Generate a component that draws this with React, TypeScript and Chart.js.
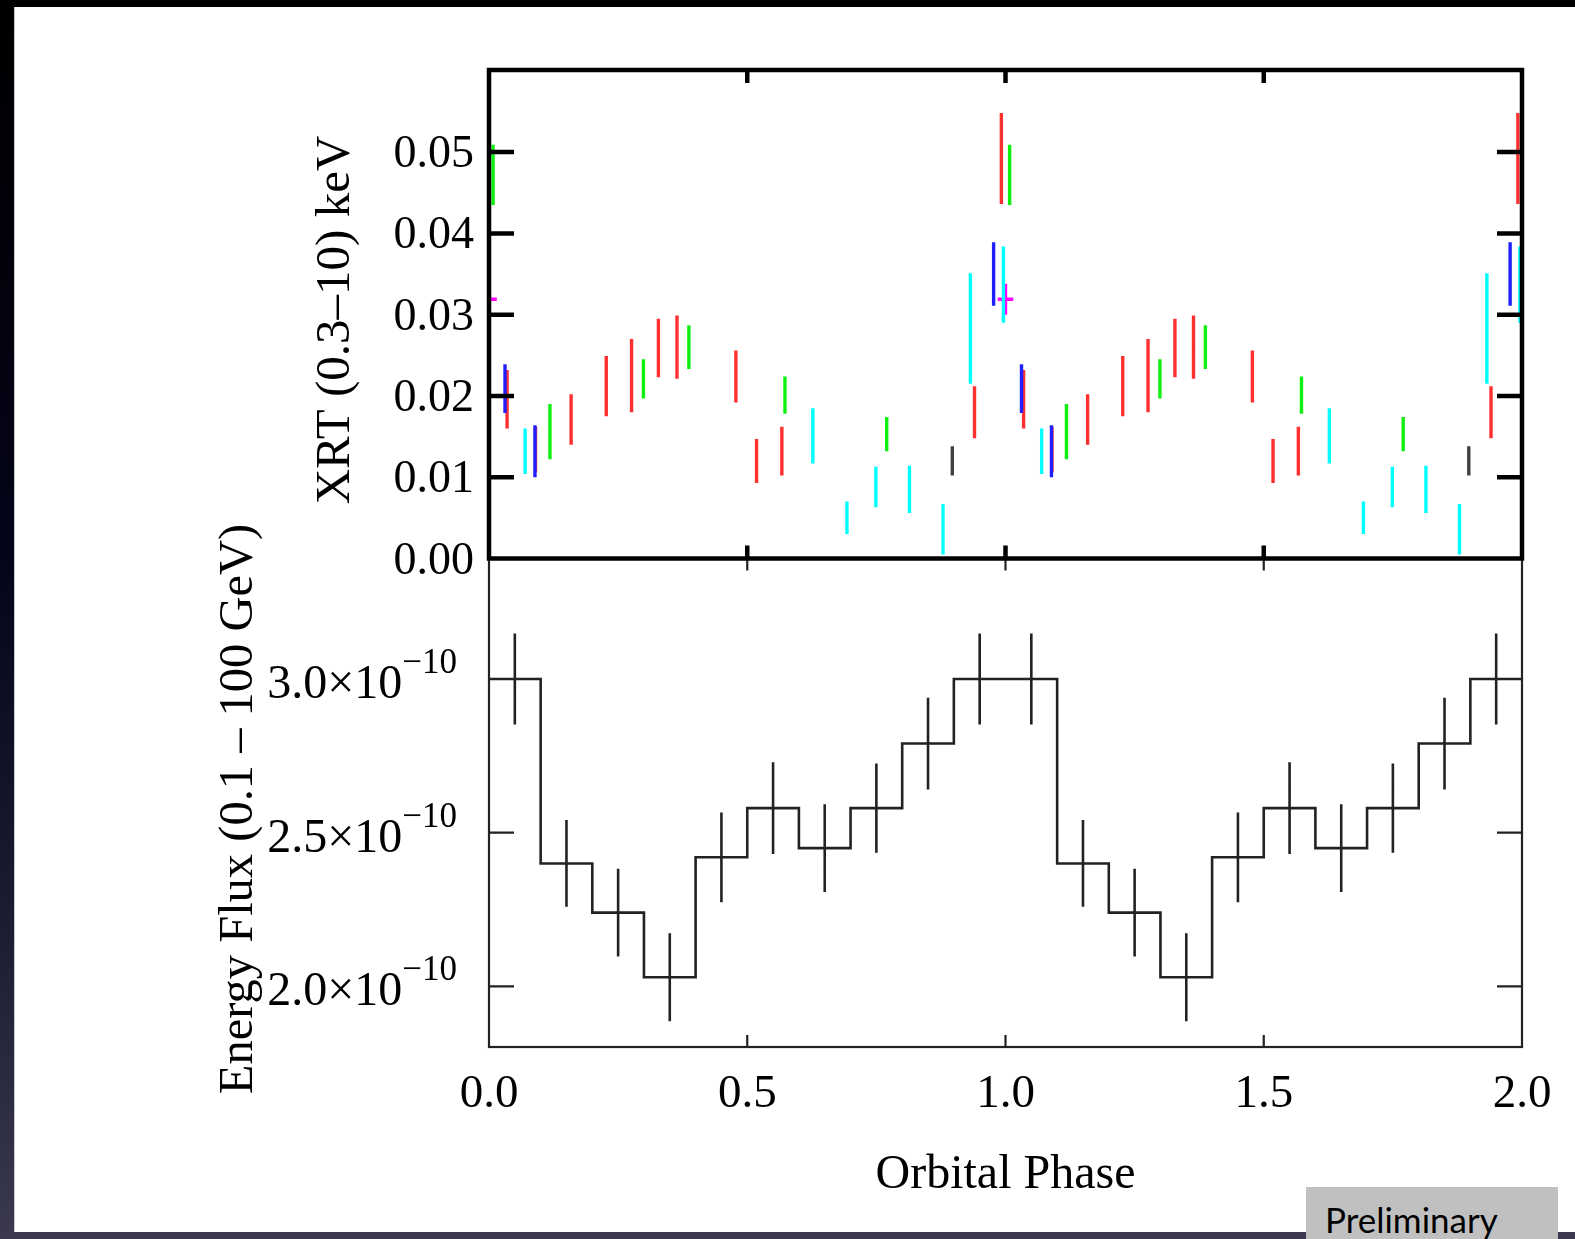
import React, { useEffect, useRef } from "react";
import { Chart, registerables } from "chart.js";

Chart.register(...registerables);

// ---------- axis ticks ----------
const phaseTicks = [0.5, 1.0, 1.5];
const phaseLabelValues = [0.0, 0.5, 1.0, 1.5, 2.0];
const phaseLabels = ["0.0", "0.5", "1.0", "1.5", "2.0"];
const xrtTicks = [0.01, 0.02, 0.03, 0.04, 0.05];
const xrtLabelValues = [0.0, 0.01, 0.02, 0.03, 0.04, 0.05];
const xrtLabels = ["0.00", "0.01", "0.02", "0.03", "0.04", "0.05"];
const fluxTicks = [2.0e-10, 2.5e-10, 3.0e-10];
const fluxMantissas = ["2.0×10", "2.5×10", "3.0×10"];
const fluxExponent = "−10";

// ---------- XRT (top panel), folded phase 0-1, plotted twice ----------
const redPhase = [0.035, 0.090, 0.159, 0.227, 0.276, 0.328, 0.364, 0.478, 0.518, 0.567, 0.940, 0.992];
const redValue = [0.0196, 0.0134, 0.0171, 0.0212, 0.0225, 0.0259, 0.0260, 0.0224, 0.0120, 0.0132, 0.0180, 0.0492];
const redError = [0.0036, 0.0028, 0.0031, 0.0037, 0.0045, 0.0036, 0.0039, 0.0032, 0.0027, 0.0030, 0.0032, 0.0056];

const greenPhase = [0.008, 0.118, 0.299, 0.387, 0.573, 0.770];
const greenValue = [0.0472, 0.0156, 0.0221, 0.0260, 0.0201, 0.0153];
const greenError = [0.0037, 0.0034, 0.0024, 0.0027, 0.0023, 0.0021];

const bluePhase = [0.031, 0.089, 0.977];
const blueValue = [0.0209, 0.0132, 0.0350];
const blueError = [0.0030, 0.0032, 0.0039];

const cyanPhase = [0.070, 0.627, 0.693, 0.749, 0.814, 0.879, 0.932, 0.996];
const cyanValue = [0.0132, 0.0151, 0.0050, 0.0088, 0.0085, 0.0036, 0.0283, 0.0337];
const cyanError = [0.0028, 0.0034, 0.0020, 0.0025, 0.0029, 0.0031, 0.0068, 0.0047];

const blackPhase = [0.897];
const blackValue = [0.0120];
const blackError = [0.0018];

const magentaPhase = [0.0];
const magentaValue = [0.0319];
const magentaError = [0.0019];
const magentaPhaseError = [0.015];

// ---------- Energy flux (bottom panel), 10 bins, plotted twice ----------
const binStart = [0.0, 0.1, 0.2, 0.3, 0.4, 0.5, 0.6, 0.7, 0.8, 0.9];
const binWidth = 0.1;
const fluxValue = [3.00e-10, 2.40e-10, 2.24e-10, 2.03e-10, 2.42e-10, 2.58e-10, 2.45e-10, 2.58e-10, 2.79e-10, 3.00e-10];
const fluxError = [0.148e-10, 0.141e-10, 0.143e-10, 0.143e-10, 0.146e-10, 0.149e-10, 0.143e-10, 0.145e-10, 0.149e-10, 0.148e-10];

const cycles = [0, 1];

// ---------- layout ----------
const W = 1575;
const H = 1239;
const LEFT = 489;
const RIGHT = 1522;
const TOP1 = 70;
const MID = 558.5;
const BOTTOM2 = 1047;

const SERIF = "'Liberation Serif', 'Times New Roman', serif";

type P = { x: number; y: number | null };

function errorBars(phases: number[], values: number[], errors: number[]): P[] {
  const items: { x: number; v: number; e: number }[] = [];
  cycles.forEach((c) => phases.forEach((p, i) => items.push({ x: p + c, v: values[i], e: errors[i] })));
  items.sort((a, b) => a.x - b.x);
  const pts: P[] = [];
  items.forEach((it) => {
    pts.push({ x: it.x, y: it.v - it.e }, { x: it.x, y: it.v + it.e }, { x: it.x, y: null });
  });
  return pts;
}

function crossBars(phases: number[], values: number[], errors: number[], xerr: number[]): P[] {
  const pts: P[] = [];
  cycles.forEach((c) =>
    phases.forEach((p, i) => {
      const x = p + c;
      pts.push({ x, y: values[i] - errors[i] }, { x, y: values[i] + errors[i] }, { x, y: null });
      pts.push({ x: x - xerr[i], y: values[i] }, { x: x + xerr[i], y: values[i] }, { x: x + xerr[i], y: null });
    })
  );
  return pts;
}

function errDataset(data: P[], color: string, width = 3.4) {
  return {
    type: "line" as const,
    data,
    borderColor: color,
    backgroundColor: color,
    borderWidth: width,
    pointRadius: 0,
    spanGaps: false,
    fill: false,
    tension: 0,
    borderCapStyle: "butt" as const,
  };
}

function framePlugin(id: string, xTicks: number[], yTicks: number[], lw: number, color: string, xLen: number, yLen: number) {
  return {
    id,
    afterDatasetsDraw(chart: any) {
      const { ctx, chartArea: a, scales } = chart;
      ctx.save();
      ctx.strokeStyle = color;
      ctx.lineWidth = lw;
      ctx.lineCap = "butt";
      ctx.beginPath();
      xTicks.forEach((v) => {
        const px = scales.x.getPixelForValue(v);
        ctx.moveTo(px, a.top);
        ctx.lineTo(px, a.top + xLen);
        ctx.moveTo(px, a.bottom);
        ctx.lineTo(px, a.bottom - xLen);
      });
      yTicks.forEach((v) => {
        const py = scales.y.getPixelForValue(v);
        ctx.moveTo(a.left, py);
        ctx.lineTo(a.left + yLen, py);
        ctx.moveTo(a.right, py);
        ctx.lineTo(a.right - yLen, py);
      });
      ctx.stroke();
      ctx.strokeRect(a.left, a.top, a.right - a.left, a.bottom - a.top);
      ctx.restore();
    },
  };
}

const topTextPlugin = {
  id: "topText",
  afterDraw(chart: any) {
    const { ctx, scales } = chart;
    ctx.save();
    ctx.fillStyle = "#000";
    ctx.font = `46px ${SERIF}`;
    ctx.textAlign = "right";
    ctx.textBaseline = "alphabetic";
    xrtLabelValues.forEach((v, i) => {
      ctx.fillText(xrtLabels[i], 474, scales.y.getPixelForValue(v) + 15);
    });
    ctx.font = `49px ${SERIF}`;
    ctx.textAlign = "center";
    ctx.translate(349, 320);
    ctx.rotate(-Math.PI / 2);
    ctx.fillText("XRT (0.3–10) keV", 0, 0);
    ctx.restore();
  },
};

const bottomTextPlugin = {
  id: "bottomText",
  afterDraw(chart: any) {
    const { ctx, scales } = chart;
    ctx.save();
    ctx.fillStyle = "#000";
    // y tick labels with superscript exponent
    fluxTicks.forEach((v, i) => {
      const py = scales.y.getPixelForValue(v);
      ctx.font = `35px ${SERIF}`;
      ctx.textAlign = "right";
      const supW = ctx.measureText(fluxExponent).width;
      ctx.fillText(fluxExponent, 457, py - 6);
      ctx.font = `48px ${SERIF}`;
      ctx.fillText(fluxMantissas[i], 457 - supW, py + 19);
    });
    // x tick labels
    ctx.font = `47px ${SERIF}`;
    ctx.textAlign = "center";
    phaseLabelValues.forEach((v, i) => {
      ctx.fillText(phaseLabels[i], scales.x.getPixelForValue(v), 1107);
    });
    ctx.font = `48px ${SERIF}`;
    ctx.fillText("Orbital Phase", (chart.chartArea.left + chart.chartArea.right) / 2, 1188);
    ctx.translate(252, 809);
    ctx.rotate(-Math.PI / 2);
    ctx.font = `48.5px ${SERIF}`;
    ctx.fillText("Energy Flux (0.1 – 100 GeV)", 0, 0);
    ctx.restore();
  },
};

export default function App() {
  const topRef = useRef<HTMLCanvasElement>(null);
  const botRef = useRef<HTMLCanvasElement>(null);

  useEffect(() => {
    const common = {
      animation: false as const,
      responsive: false,
      events: [] as any[],
      devicePixelRatio: 1,
    };

    const topChart = new Chart(topRef.current!, {
      type: "line",
      data: {
        datasets: [
          errDataset(errorBars(cyanPhase, cyanValue, cyanError), "#00ffff"),
          errDataset(errorBars(bluePhase, blueValue, blueError), "#2020ff"),
          errDataset(errorBars(greenPhase, greenValue, greenError), "#10f010"),
          errDataset(errorBars(redPhase, redValue, redError), "#ff3030"),
          errDataset(errorBars(blackPhase, blackValue, blackError), "#404040"),
          errDataset(crossBars(magentaPhase, magentaValue, magentaError, magentaPhaseError), "#ff00ff"),
        ] as any,
      },
      options: {
        ...common,
        layout: { padding: { left: LEFT, right: W - RIGHT, top: TOP1, bottom: H - MID } },
        scales: {
          x: { type: "linear", min: 0, max: 2, display: false },
          y: { type: "linear", min: 0, max: 0.0601, display: false },
        },
        plugins: { legend: { display: false }, tooltip: { enabled: false }, title: { display: false } },
      } as any,
      plugins: [framePlugin("topFrame", phaseTicks, xrtTicks, 4.5, "#000", 13, 25), topTextPlugin],
    });

    const stepPts: P[] = [];
    cycles.forEach((c) => binStart.forEach((b, i) => stepPts.push({ x: b + c, y: fluxValue[i] })));
    stepPts.push({ x: binStart[0] + cycles[cycles.length - 1] + 1, y: fluxValue[fluxValue.length - 1] });
    const binCenters = binStart.map((b) => b + binWidth / 2);

    const botChart = new Chart(botRef.current!, {
      type: "line",
      data: {
        datasets: [
          {
            type: "line",
            data: stepPts,
            stepped: true,
            borderColor: "#222",
            borderWidth: 2.6,
            pointRadius: 0,
            fill: false,
          },
          errDataset(errorBars(binCenters, fluxValue, fluxError), "#222", 2.6),
        ] as any,
      },
      options: {
        ...common,
        layout: { padding: { left: LEFT, right: W - RIGHT, top: MID, bottom: H - BOTTOM2 } },
        scales: {
          x: { type: "linear", min: 0, max: 2, display: false },
          y: { type: "linear", min: 1.803e-10, max: 3.392e-10, display: false },
        },
        plugins: { legend: { display: false }, tooltip: { enabled: false }, title: { display: false } },
      } as any,
      plugins: [framePlugin("botFrame", phaseTicks, fluxTicks, 2.2, "#222", 12, 25), bottomTextPlugin],
    });

    return () => {
      topChart.destroy();
      botChart.destroy();
    };
  }, []);

  const canvasStyle: React.CSSProperties = { position: "absolute", left: 0, top: 0, width: W, height: H };

  return (
    <div
      style={{
        position: "absolute",
        left: 0,
        top: 0,
        width: W,
        height: H,
        overflow: "hidden",
        background: "linear-gradient(to bottom, #000 0%, #04041a 45%, #1c1c32 75%, #3a394f 100%)",
      }}
    >
      <div
        style={{
          position: "absolute",
          left: 14,
          top: 7,
          width: W - 14,
          height: 1225,
          background: "#fff",
          borderLeft: "1px solid #c8c8cc",
          boxSizing: "border-box",
        }}
      />
      <canvas ref={botRef} width={W} height={H} style={canvasStyle} />
      <canvas ref={topRef} width={W} height={H} style={canvasStyle} />
      <div
        style={{
          position: "absolute",
          left: 1306,
          top: 1187,
          width: 252,
          height: 60,
          background: "#c0c0c0",
        }}
      >
        <span
          style={{
            position: "absolute",
            left: 19,
            top: 15,
            fontFamily: "Lato, 'Open Sans', sans-serif",
            fontSize: 35,
            lineHeight: "35px",
            color: "#000",
            whiteSpace: "nowrap",
          }}
        >
          Preliminary
        </span>
      </div>
    </div>
  );
}
